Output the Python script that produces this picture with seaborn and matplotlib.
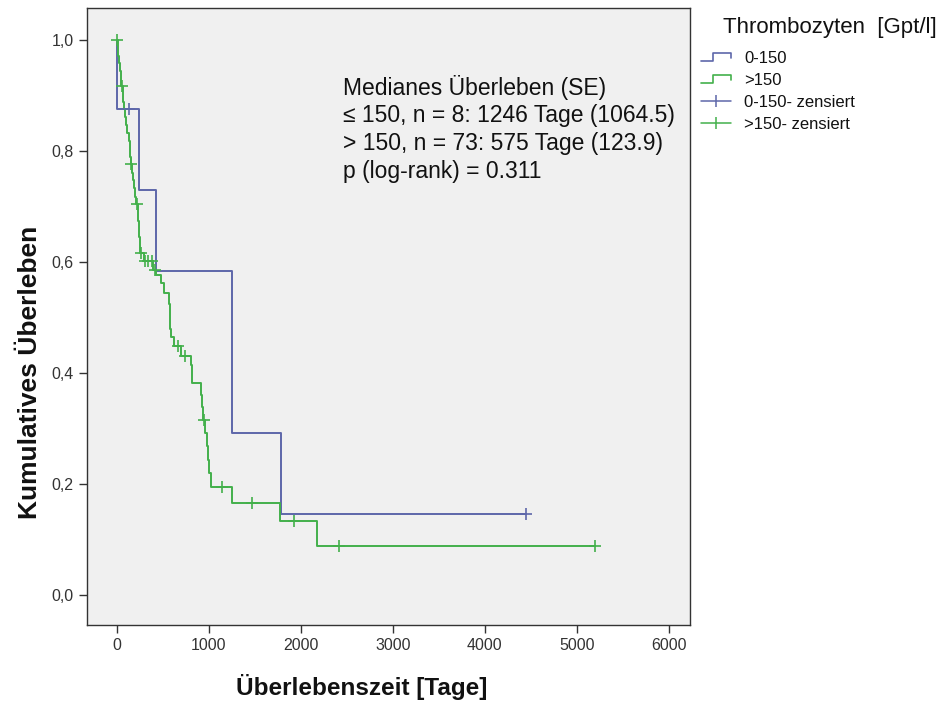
import numpy as np
import pandas as pd
import matplotlib
matplotlib.use("Agg")
import matplotlib.pyplot as plt
from matplotlib.lines import Line2D
from matplotlib.legend_handler import HandlerBase
import seaborn as sns

sns.set_theme(style="white")
plt.rcParams["font.family"] = ["Liberation Sans", "DejaVu Sans"]

# Kaplan-Meier step data: time of each drop and survival after the drop
low_event_t = [5, 240, 420, 1246, 1255, 1780]
low_event_s = [0.875, 0.729, 0.583, 0.4375, 0.292, 0.146]
low_censor_t = [130, 4450]

high_event_t = [8, 15, 22, 30, 40, 48, 62, 70, 78, 86, 95, 105, 128, 137, 140, 147,
                165, 175, 185, 195, 207, 225, 230, 236, 242, 248, 255, 290, 390, 420,
                475, 515, 565, 572, 575, 578, 582, 620, 700, 808, 811, 814, 910, 920,
                932, 960, 975, 985, 1000, 1025, 1250, 1775, 2173]
high_event_s = [0.986, 0.972, 0.958, 0.944, 0.930, 0.917, 0.903, 0.889, 0.875, 0.861,
                0.846, 0.832, 0.818, 0.804, 0.790, 0.776, 0.761, 0.747, 0.733, 0.718,
                0.704, 0.689, 0.674, 0.660, 0.645, 0.630, 0.616, 0.601, 0.585, 0.577,
                0.562, 0.545, 0.524, 0.509, 0.494, 0.480, 0.465, 0.449, 0.430, 0.414,
                0.398, 0.382, 0.361, 0.338, 0.316, 0.292, 0.268, 0.243, 0.219, 0.195,
                0.166, 0.133, 0.089]
high_censor_t = [3, 55, 152, 218, 261, 300, 340, 380, 410, 665, 740, 945, 1138, 1465,
                 1920, 2410, 5200]

group_labels = ["0-150", ">150"]
censor_labels = ["0-150- zensiert", ">150- zensiert"]
colors = ["#5e67aa", "#43b04b"]

x_ticks = [0, 1000, 2000, 3000, 4000, 5000, 6000]
y_ticks = [0.0, 0.2, 0.4, 0.6, 0.8, 1.0]
y_ticklabels = ["0,0", "0,2", "0,4", "0,6", "0,8", "1,0"]

stats_lines = ["Medianes Überleben (SE)",
               "≤ 150, n = 8: 1246 Tage (1064.5)",
               "> 150, n = 73: 575 Tage (123.9)",
               "p (log-rank) = 0.311"]


def curve_frame(event_t, event_s, censor_t, label):
    t = [0.0] + list(event_t)
    s = [1.0] + list(event_s)
    last = max(censor_t + list(event_t))
    if last > t[-1]:
        t.append(last)
        s.append(s[-1])
    return pd.DataFrame({"Zeit": t, "S": s, "Gruppe": label})


def censor_frame(event_t, event_s, censor_t, label):
    et = np.array([0.0] + list(event_t))
    es = np.array([1.0] + list(event_s))
    ct = np.array(censor_t, dtype=float)
    idx = np.searchsorted(et, ct, side="right") - 1
    return pd.DataFrame({"Zeit": ct, "S": es[idx], "Gruppe": label})


curves = pd.concat([
    curve_frame(low_event_t, low_event_s, low_censor_t, group_labels[0]),
    curve_frame(high_event_t, high_event_s, high_censor_t, group_labels[1]),
])
censors = pd.concat([
    censor_frame(low_event_t, low_event_s, low_censor_t, group_labels[0]),
    censor_frame(high_event_t, high_event_s, high_censor_t, group_labels[1]),
])

fig = plt.figure(figsize=(9.44, 7.01), dpi=100)
ax = fig.add_axes([87 / 944, 1 - 625 / 701, (690 - 87) / 944, (625 - 8) / 701])
ax.set_facecolor("#f0f0f0")

palette = dict(zip(group_labels, colors))
sns.lineplot(data=curves, x="Zeit", y="S", hue="Gruppe", palette=palette,
             estimator=None, sort=False, drawstyle="steps-post", linewidth=1.4,
             legend=False, ax=ax)
for g, c in zip(group_labels, colors):
    sub = censors[censors["Gruppe"] == g]
    ax.plot(sub["Zeit"], sub["S"], linestyle="None", marker="+", markersize=9,
            markeredgewidth=1.2, color=c)

ax.set_xlim(-326, 6230)
ax.set_ylim(-0.054, 1.0577)
ax.set_xticks(x_ticks)
ax.set_xticklabels([str(v) for v in x_ticks])
ax.set_yticks(y_ticks)
ax.set_yticklabels(y_ticklabels)
ax.tick_params(axis="both", which="major", direction="out", length=6, width=1,
               color="#333333", labelsize=11.5, labelcolor="#333333",
               bottom=True, left=True)
for sp in ax.spines.values():
    sp.set_color("#333333")
    sp.set_linewidth(1.0)
ax.set_xlabel("")
ax.set_ylabel("")

fig.text(362 / 944, 1 - 687 / 701, "Überlebenszeit [Tage]", ha="center",
         va="center", fontsize=17.5, fontweight="bold", color="#111111")
fig.text(30 / 944, 1 - 372 / 701, "Kumulatives Überleben", ha="center",
         va="center", rotation=90, fontsize=19, fontweight="bold", color="#111111")

for i, line in enumerate(stats_lines):
    fig.text(343 / 944, 1 - (88 + i * 27.7) / 701, line, ha="left", va="center",
             fontsize=16.5, color="#111111")


class StepHandler(HandlerBase):
    def create_artists(self, legend, orig_handle, xdescent, ydescent, width,
                       height, fontsize, trans):
        xs = np.array([0.0, 0.4, 0.4, 1.0, 1.0]) * width - xdescent
        ys = np.array([0.15, 0.15, 0.85, 0.85, 0.45]) * height - ydescent
        ln = Line2D(xs, ys, color=orig_handle.get_color(), linewidth=1.2)
        ln.set_transform(trans)
        return [ln]


step_handles = [Line2D([], [], color=c) for c in colors]
cens_handles = [Line2D([], [], color=c, marker="|", markersize=9,
                       markeredgewidth=1.1, linewidth=1.1) for c in colors]
handler_map = {h: StepHandler() for h in step_handles}

fig.text(723 / 944, 1 - 27 / 701, "Thrombozyten  [Gpt/l]", ha="left",
         va="center", fontsize=16, color="#111111")
leg = fig.legend(step_handles + cens_handles, group_labels + censor_labels,
                 handler_map=handler_map, loc="upper left",
                 bbox_to_anchor=(701 / 944, 1 - 51 / 701), frameon=False,
                 fontsize=12, handlelength=1.8, handletextpad=0.8,
                 labelspacing=0.42, borderpad=0, borderaxespad=0, numpoints=1)
for t in leg.get_texts():
    t.set_color("#111111")

fig.savefig("out.png", dpi=100)
